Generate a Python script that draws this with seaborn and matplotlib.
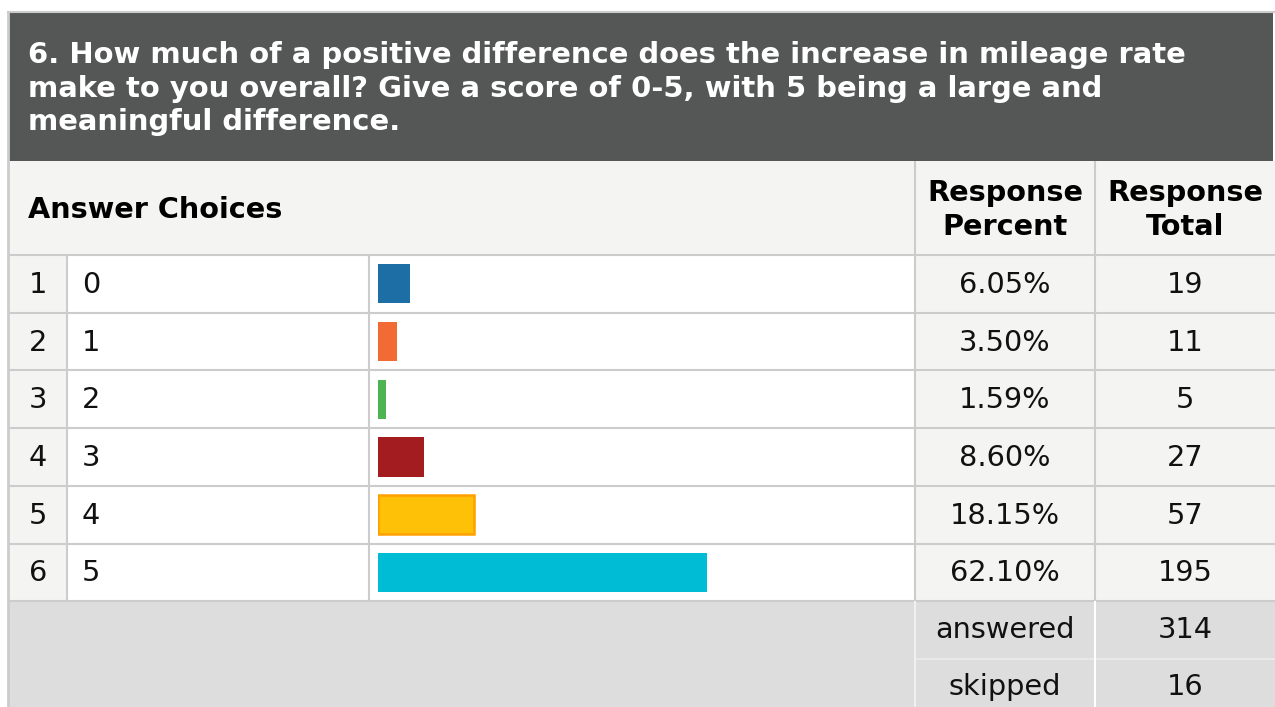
import matplotlib
matplotlib.use("Agg")
import matplotlib.pyplot as plt
from matplotlib.patches import Rectangle
import seaborn as sns
import pandas as pd

# ---- data ----
title_lines = ["6. How much of a positive difference does the increase in mileage rate",
               "make to you overall? Give a score of 0-5, with 5 being a large and",
               "meaningful difference."]
row_numbers = ["1", "2", "3", "4", "5", "6"]
choices = ["0", "1", "2", "3", "4", "5"]
percents = [6.05, 3.50, 1.59, 8.60, 18.15, 62.10]
totals = [19, 11, 5, 27, 57, 195]
answered = 314
skipped = 16
header_choices = "Answer Choices"
header_percent = "Response\nPercent"
header_total = "Response\nTotal"

bar_colors = ["#1c6ea4", "#f26b35", "#4cb450", "#a31c20", "#ffc107", "#00bcd4"]
bar_edges = ["#1c6ea4", "#f26b35", "#4cb450", "#a31c20", "#ffa000", "#00bcd4"]

sns.set_theme(style="white")
plt.rcParams['font.family'] = ['DejaVu Sans']

W, H = 1275, 707
fig = plt.figure(figsize=(W / 100, H / 100), dpi=100)
fig.patch.set_facecolor("white")

ax0 = fig.add_axes([0, 0, 1, 1])
ax0.set_xlim(0, W)
ax0.set_ylim(H, 0)
ax0.axis("off")

def rect(x0, y0, x1, y1, color, z=1):
    ax0.add_patch(Rectangle((x0, y0), x1 - x0, y1 - y0, facecolor=color,
                            edgecolor="none", zorder=z))

def hline(y, x0, x1, color="#cccccc", lw=1.5, z=3):
    ax0.plot([x0, x1], [y, y], color=color, lw=lw, zorder=z, solid_capstyle="butt")

def vline(x, y0, y1, color="#cccccc", lw=1.5, z=3):
    ax0.plot([x, x], [y0, y1], color=color, lw=lw, zorder=z, solid_capstyle="butt")

LEFT = 9
c_idx, c_lab, c_bar, c_pct, c_tot = 67, 369, 915, 1095, W
TOP = 12
HDR_BOT = 161
COLHDR_BOT = 255
ROW_H = 57.7
rows_bot = COLHDR_BOT + ROW_H * len(choices)

light = "#f4f4f2"
FS = 28.8 * 72 / 100      # body text size (pt) for a ~28.8 px em
FS_T = 28.95 * 72 / 100   # title size

# header
rect(LEFT, TOP, 1273, HDR_BOT, "#555756")
for i, line in enumerate(title_lines):
    ax0.text(28, 63.3 + i * 33.4, line, color="white", fontsize=FS_T, fontweight="bold",
             va="baseline", ha="left", zorder=5)

# column header row
rect(LEFT, HDR_BOT, W, COLHDR_BOT, light)
ax0.text(28, 210, header_choices, fontsize=FS, fontweight="bold", va="center",
         ha="left", color="black", zorder=5)
ax0.text((c_bar + c_pct) / 2, 210, header_percent, fontsize=FS, fontweight="bold",
         va="center", ha="center", color="black", linespacing=1.3, zorder=5)
ax0.text((c_pct + c_tot) / 2, 210, header_total, fontsize=FS, fontweight="bold",
         va="center", ha="center", color="black", linespacing=1.3, zorder=5)

# data rows
rect(LEFT, COLHDR_BOT, c_idx, rows_bot, light)
rect(c_idx, COLHDR_BOT, c_bar, rows_bot, "white")
rect(c_bar, COLHDR_BOT, W, rows_bot, light)
for i, (n, c, p, t) in enumerate(zip(row_numbers, choices, percents, totals)):
    yc = COLHDR_BOT + ROW_H * (i + 0.5) + 1
    ax0.text((LEFT + c_idx) / 2, yc, n, fontsize=FS, va="center", ha="center", color="#111111", zorder=5)
    ax0.text(82, yc, c, fontsize=FS, va="center", ha="left", color="#111111", zorder=5)
    ax0.text((c_bar + c_pct) / 2, yc, f"{p:.2f}%", fontsize=FS, va="center", ha="center", color="#111111", zorder=5)
    ax0.text((c_pct + c_tot) / 2, yc, str(t), fontsize=FS, va="center", ha="center", color="#111111", zorder=5)

# summary rows
rect(LEFT, rows_bot, W, H, "#dddddd")
sum_h = 57.5
ax0.text((c_bar + c_pct) / 2, rows_bot + sum_h / 2, "answered", fontsize=FS, va="center", ha="center", color="#111111", zorder=5)
ax0.text((c_pct + c_tot) / 2, rows_bot + sum_h / 2, str(answered), fontsize=FS, va="center", ha="center", color="#111111", zorder=5)
ax0.text((c_bar + c_pct) / 2, rows_bot + sum_h + 28, "skipped", fontsize=FS, va="center", ha="center", color="#111111", zorder=5)
ax0.text((c_pct + c_tot) / 2, rows_bot + sum_h + 28, str(skipped), fontsize=FS, va="center", ha="center", color="#111111", zorder=5)

# grid lines
hline(COLHDR_BOT, LEFT, W)
for i in range(1, len(choices) + 1):
    hline(COLHDR_BOT + ROW_H * i, LEFT, W)
hline(rows_bot + sum_h, c_bar, W, color="#e8e8e8")
for x in (c_idx, c_lab):
    vline(x, COLHDR_BOT, rows_bot)
vline(c_bar, HDR_BOT, rows_bot)
vline(c_pct, HDR_BOT, rows_bot)
vline(c_bar, rows_bot, H, color="#f0f0f0")
vline(c_pct, rows_bot, H, color="#ffffff")
vline(8, TOP, H, color="#cccccc", lw=2)
hline(TOP, 7, W, color="#cccccc", lw=1.5)

# bars
df = pd.DataFrame({"choice": choices, "percent": percents})
bar_left = 378
axb = fig.add_axes([bar_left / W, (H - rows_bot) / H, 530 / W, (rows_bot - COLHDR_BOT) / H])
axb.set_facecolor("none")
sns.barplot(data=df, x="percent", y="choice", hue="choice", order=choices,
            hue_order=choices, palette=bar_colors, orient="h", width=0.68,
            saturation=1, legend=False, ax=axb, linewidth=0)
for cont, ec, fc in zip(axb.containers, bar_edges, bar_colors):
    for patch in cont:
        patch.set_edgecolor(ec)
        patch.set_linewidth(1.8 if ec != fc else 0)
axb.set_xlim(0, 100)
axb.set_ylim(len(choices) - 0.5, -0.5)
axb.axis("off")

fig.savefig("out.png", dpi=100)
